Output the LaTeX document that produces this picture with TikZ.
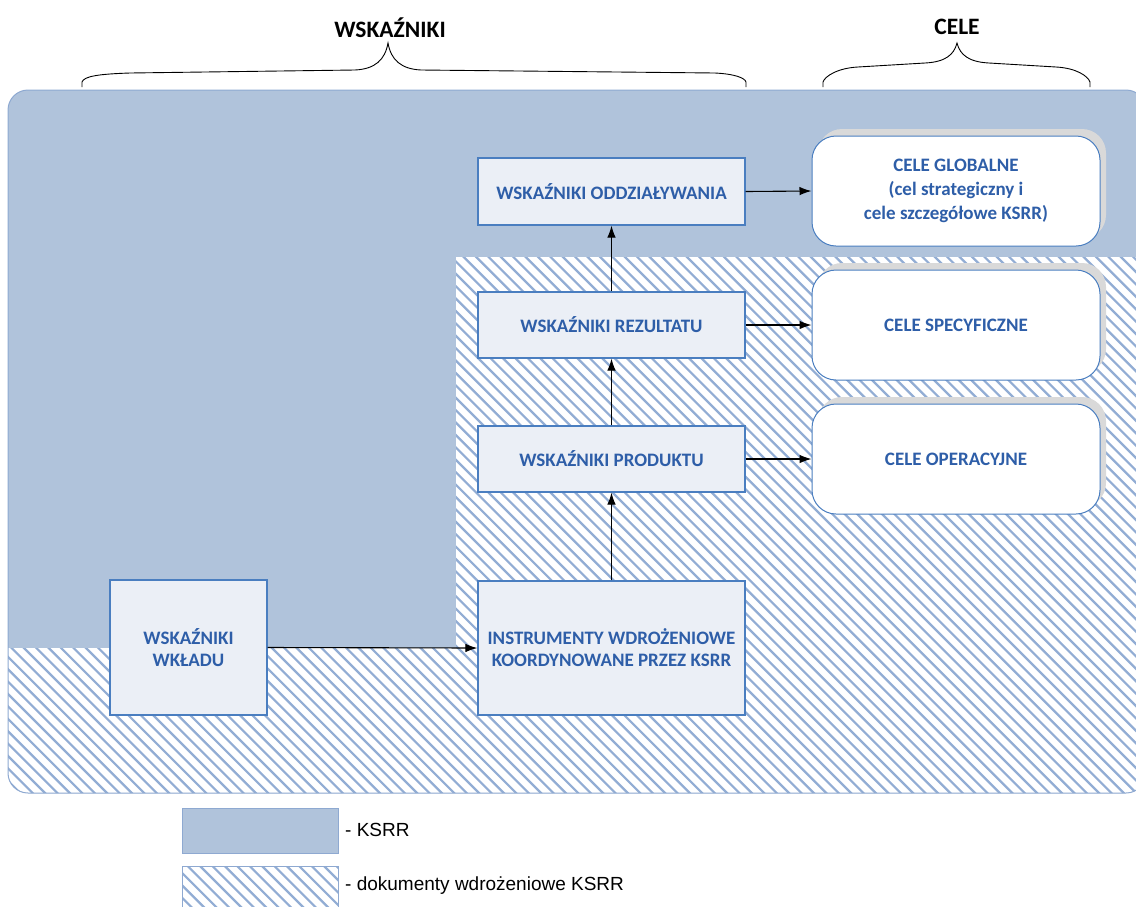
\documentclass[tikz,border=0pt]{standalone}
\usepackage{fontspec}
\setmainfont{Carlito}
\newfontfamily\legendfont{Liberation Sans}
\usetikzlibrary{arrows.meta,shadows}
\definecolor{ksrr}{RGB}{176,195,219}
\definecolor{hatchc}{RGB}{146,173,212}
\definecolor{boxfill}{RGB}{235,239,246}
\definecolor{boxline}{RGB}{74,126,192}
\definecolor{txtblue}{RGB}{46,94,168}
\definecolor{shadowgrey}{RGB}{217,217,217}
\definecolor{outlinec}{RGB}{142,169,209}
\begin{document}
\begin{tikzpicture}[x=1pt,y=-1pt,
  ind/.style={draw=boxline, line width=1.2pt, fill=boxfill, minimum width=267pt, minimum height=67pt,
    align=center, font=\fontsize{19}{22}\selectfont\bfseries, text=txtblue, inner sep=0pt},
  goal/.style={draw=boxline, line width=1pt, fill=white, rounded corners=24pt, minimum width=288pt,
    minimum height=110pt, align=center, font=\fontsize{19}{24}\selectfont\bfseries, text=txtblue, inner sep=0pt,
    drop shadow={shadow xshift=6pt, shadow yshift=7pt, fill=shadowgrey, opacity=1}},
  conn/.style={-{Latex[length=12pt,width=8.5pt]}, line width=1.1pt, black},
  hatchline/.style={draw=hatchc, line width=2.2pt},
  brace/.style={draw=black, line width=0.9pt},
  title/.style={font=\fontsize{23.5}{27}\selectfont\bfseries, text=black},
  legtext/.style={font=\legendfont\fontsize{19}{22}\selectfont, anchor=west, text=black, inner sep=0pt},
]
\useasboundingbox (0,0) rectangle (1136,906);
\clip (0,0) rectangle (1136,906);

% background panel
\begin{scope}
  \clip[rounded corners=20pt] (8,90) rectangle (1146,793);
  \fill[ksrr] (0,80) rectangle (1150,800);
  \fill[white] (456,257) -- (1150,257) -- (1150,800) -- (0,800) -- (0,648) -- (456,648) -- cycle;
  \clip (456,257) -- (1150,257) -- (1150,800) -- (0,800) -- (0,648) -- (456,648) -- cycle;
  \foreach \c in {-560,-547.6,...,1160}
    \draw[hatchline] (\c,250) -- ++(700,700);
\end{scope}
\draw[outlinec, line width=1pt, rounded corners=20pt] (8,90) rectangle (1146,793);

% braces and titles
\draw[brace] (82,87) -- (82,82) .. controls (84,76) and (100,74) .. (130,73) -- (355,70)
  .. controls (375,69) and (385,60) .. (388,43) .. controls (391,60) and (401,69) .. (421,70)
  -- (715,73) .. controls (735,74) and (745,78) .. (746,82) -- (746,87);
\draw[brace] (823,87) -- (823,82) .. controls (825,76) and (838,68) .. (858,67) -- (925,63)
  .. controls (945,62) and (954,55) .. (957,43) .. controls (960,55) and (969,62) .. (989,63)
  -- (1056,67) .. controls (1076,68) and (1088,76) .. (1090,82) -- (1090,87);
\node[title] (t1) at (390,28) {WSKAŹNIKI};
\node[title] (t2) at (957,27) {CELE};

% indicator boxes
\node[ind] (oddz) at (611.5,191.5) {WSKAŹNIKI ODDZIAŁYWANIA};
\node[ind, minimum height=66pt] (rez) at (611.5,325) {WSKAŹNIKI REZULTATU};
\node[ind, minimum height=66pt] (prod) at (611.5,459) {WSKAŹNIKI PRODUKTU};
\node[ind, minimum height=134pt] (instr) at (611.5,648) {INSTRUMENTY WDROŻENIOWE\\KOORDYNOWANE PRZEZ KSRR};
\node[ind, minimum width=157pt, minimum height=135pt] (wklad) at (188.5,647.5) {WSKAŹNIKI\\WKŁADU};

% goal boxes
\node[goal] (glob) at (956,191) {CELE GLOBALNE\\(cel strategiczny i\\cele szczegółowe KSRR)};
\node[goal] (spec) at (956,325) {CELE SPECYFICZNE};
\node[goal] (oper) at (956,459) {CELE OPERACYJNE};

% connectors
\draw[conn] (wklad.east) -- (instr.west);
\draw[conn] (instr.north) -- (prod.south);
\draw[conn] (prod.north) -- (rez.south);
\draw[conn] (rez.north) -- (oddz.south);
\draw[conn] (oddz.east) -- (glob.west);
\draw[conn] (rez.east) -- (spec.west);
\draw[conn] (prod.east) -- (oper.west);

% legend
\node[draw=outlinec, line width=1pt, fill=ksrr, minimum width=156pt, minimum height=45pt, inner sep=0pt] (leg1) at (260,830.5) {};
\node[legtext] (leg1t) at (345,830) {- KSRR};
\begin{scope}
  \clip (182,866) rectangle (338,912);
  \fill[white] (182,866) rectangle (338,912);
  \foreach \c in {60,72.4,...,360}
    \draw[hatchline] (\c,850) -- ++(80,80);
\end{scope}
\node[draw=outlinec, line width=1pt, minimum width=156pt, minimum height=46pt, inner sep=0pt] (leg2) at (260,889) {};
\node[legtext] (leg2t) at (345,886) {- dokumenty wdrożeniowe KSRR};
\end{tikzpicture}
\end{document}
